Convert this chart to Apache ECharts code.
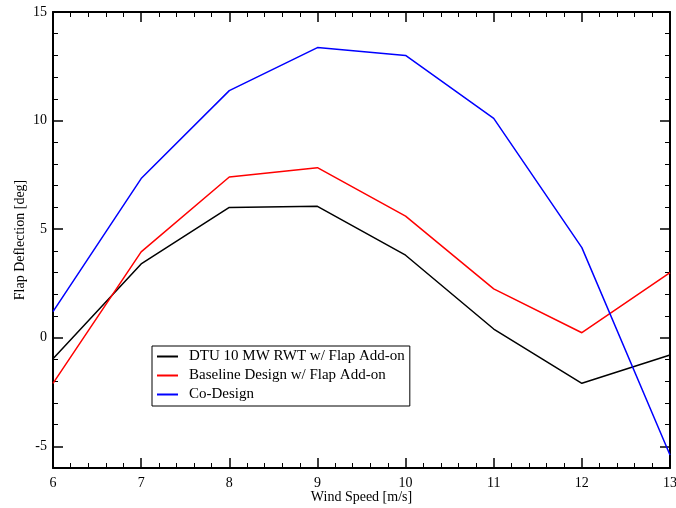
<!DOCTYPE html>
<html>
<head>
<meta charset="utf-8">
<script src="https://cdn.jsdelivr.net/npm/echarts@6/dist/echarts.min.js"></script>
<style>html,body{margin:0;padding:0;background:#fff}#c{width:676px;height:508px}</style>
</head>
<body>
<div id="c"></div>
<script>
var windSpeed = [6, 7, 8, 9, 10, 11, 12, 13];
var dtuFlap = [-0.97, 3.4, 6.0, 6.05, 3.8, 0.4, -2.1, -0.8];
var baselineFlap = [-2.1, 3.95, 7.4, 7.83, 5.6, 2.25, 0.23, 3.0];
var coDesign = [1.2, 7.33, 11.38, 13.36, 13.0, 10.1, 4.15, -5.4];
var yMajorTicks = [-5, 0, 5, 10, 15];
var seriesNames = ['DTU 10 MW RWT w/ Flap Add-on', 'Baseline Design w/ Flap Add-on', 'Co-Design'];

var FONT = 'Liberation Serif';
var chart = echarts.init(document.getElementById('c'), null, {renderer: 'canvas'});

function pairs(ys) { return windSpeed.map(function (x, i) { return [x, ys[i]]; }); }

function mkLine(show) { return {show: show, onZero: false, lineStyle: {color: '#000', width: 2}}; }
function xAx(pos, labels) {
  return {
    type: 'value', position: pos, min: 6, max: 13, interval: 1,
    axisLine: mkLine(true),
    axisTick: {show: true, inside: true, length: 10, lineStyle: {color: '#000', width: 1.5}},
    minorTick: {show: true, splitNumber: 5, length: 5, lineStyle: {color: '#000', width: 1}},
    splitLine: {show: false}, minorSplitLine: {show: false},
    axisLabel: {show: labels, color: '#000', fontFamily: FONT, fontSize: 14, margin: 8},
    name: labels ? 'Wind Speed [m/s]' : '', nameLocation: 'middle', nameGap: 22, nameMoveOverlap: false,
    nameTextStyle: {color: '#000', fontFamily: FONT, fontSize: 14}
  };
}
var minorY = [];
for (var v = -6; v <= 15; v++) if (yMajorTicks.indexOf(v) < 0) minorY.push(v);
function yAx(pos, labels, major) {
  return {
    type: 'value', position: pos, min: -6, max: 15, offset: 0,
    axisLine: mkLine(major),
    axisTick: {show: true, inside: true, length: major ? 10 : 5,
      customValues: major ? yMajorTicks : minorY,
      lineStyle: {color: '#000', width: major ? 1.5 : 1}},
    splitLine: {show: false},
    axisLabel: {show: labels, customValues: yMajorTicks, color: '#000', fontFamily: FONT, fontSize: 14, margin: 6},
    name: labels ? 'Flap Deflection [deg]' : '', nameLocation: 'middle', nameGap: 26, nameMoveOverlap: false,
    nameTextStyle: {color: '#000', fontFamily: FONT, fontSize: 14}
  };
}

var colors = ['#000000', '#ff0000', '#0000ff'];
var datas = [dtuFlap, baselineFlap, coDesign];
var series = datas.map(function (d, i) {
  return {
    name: seriesNames[i], type: 'line', data: pairs(d), xAxisIndex: 0, yAxisIndex: 0,
    showSymbol: false, symbol: 'none', animation: false,
    lineStyle: {color: colors[i], width: 1.5}, itemStyle: {color: colors[i]}
  };
});

chart.setOption({
  animation: false,
  backgroundColor: '#fff',
  grid: {left: 53, right: 6, top: 12, bottom: 40, containLabel: false, outerBoundsMode: 'none'},
  xAxis: [xAx('bottom', true), xAx('top', false)],
  yAxis: [yAx('left', true, true), yAx('left', false, false), yAx('right', false, true), yAx('right', false, false)],
  legend: {
    show: true, orient: 'vertical', left: 152, top: 346,
    data: seriesNames,
    icon: 'rect', itemWidth: 21, itemHeight: 2, itemGap: 4,
    borderColor: '#000', borderWidth: 1, borderRadius: 0,
    padding: [3, 5, 4, 5],
    textStyle: {color: '#000', fontFamily: FONT, fontSize: 15, padding: [0, 0, 0, 6]}
  },
  series: series
});
</script>
</body>
</html>
